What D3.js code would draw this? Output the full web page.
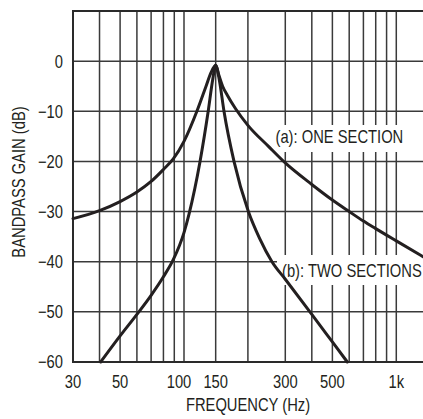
<!DOCTYPE html>
<html>
  <head>
    <meta charset="utf-8">
    <title>Bandpass gain</title>
    <script src="https://cdn.jsdelivr.net/npm/d3@7"></script>
    <style>
      body { margin: 0; background: #fff; }
      text { font-family: "Liberation Sans", Arial, sans-serif; font-size: 18px; fill: #231f20; }
    </style>
  </head>

  <body>
    <svg id="chart" width="423" height="419"></svg>

    <script>
      // data
      gridFreqs = [40, 50, 60, 70, 80, 90, 100, 141, 200, 300, 400, 500, 600, 700, 800, 900, 1000];
      xTickValues = [30, 50, 100, 141, 300, 500, 1000];
      xTickLabels = ["30", "50", "100", "150", "300", "500", "1k"];
      yTickValues = [-60, -50, -40, -30, -20, -10, 0];

      // (a): one section
      freqA = [30, 40, 50, 60, 70, 80, 89, 100, 115, 127, 134, 141, 146, 152, 160, 175, 200, 250, 300, 400, 500, 600, 700, 800, 900, 1000, 1336];
      gainA = [-31.4, -29.8, -28.0, -26.1, -24.0, -21.6, -19.5, -16.0, -10, -5.0, -2.3, -0.8, -2.8, -5.0, -6.8, -9.5, -12.8, -17.0, -20.3, -24.6, -27.7, -30.0, -31.9, -33.4, -34.7, -35.85, -39.0];

      // (b): two sections
      freqB = [40.5, 50, 60, 70, 80, 89, 100, 105.6, 119, 130, 136.5, 141, 147, 154.3, 172, 201, 226.7, 259.6, 300, 400, 500, 588];
      gainB = [-60, -54.8, -50.5, -46.7, -43.0, -39.6, -34.2, -30.5, -20, -10, -3.7, -0.8, -4.0, -10, -20, -30, -35.3, -40, -43.5, -50.5, -56.0, -60];

      labelA = "(a): ONE SECTION";
      labelB = "(b): TWO SECTIONS";

      // elements
      svg = d3.select("#chart");
      left = 73; right = 423; top_ = 11; bottom = 362;
      squeeze = 0.82; // the original lettering is condensed

      x = d3.scaleLog()
        .domain([30, 1336])
        .range([left, right]);
      y = d3.scaleLinear()
        .domain([-60, 10])
        .range([bottom, top_]);

      function addText(tx, ty, str, anchor, rotate) {
        return svg.append("text")
          .attr("transform", "translate(" + tx + "," + ty + ")" + (rotate ? " rotate(" + rotate + ")" : "") + " scale(" + squeeze + ",1)")
          .attr("text-anchor", anchor || "start")
          .text(str);
      }

      // grid
      grid = svg.append("g")
        .attr("stroke", "#3a3a3a")
        .attr("stroke-width", 1.5);
      grid.selectAll(".v")
        .data(gridFreqs)
      .enter().append("line")
        .attr("x1", function(d) { return x(d); })
        .attr("x2", function(d) { return x(d); })
        .attr("y1", top_)
        .attr("y2", bottom);
      grid.selectAll(".h")
        .data(yTickValues.slice(1))
      .enter().append("line")
        .attr("x1", left)
        .attr("x2", right)
        .attr("y1", function(d) { return y(d); })
        .attr("y2", function(d) { return y(d); });

      // frame (no right side)
      svg.append("path")
        .attr("d", "M" + right + "," + y(10) + "H" + left + "V" + y(-60) + "H" + right)
        .attr("fill", "none")
        .attr("stroke", "#2a2a2a")
        .attr("stroke-width", 2);

      // white boxes behind the curve labels
      svg.append("rect")
        .attr("x", 273).attr("y", 125)
        .attr("width", 135).attr("height", 27)
        .attr("fill", "#fff");
      svg.append("rect")
        .attr("x", 277).attr("y", 255)
        .attr("width", 146).attr("height", 30)
        .attr("fill", "#fff");

      // curves
      line = d3.line()
        .x(function(d) { return x(d[0]); })
        .y(function(d) { return y(d[1]); })
        .curve(d3.curveMonotoneX);

      [[freqA, gainA], [freqB, gainB]].forEach(function(s) {
        svg.append("path")
          .datum(d3.zip(s[0], s[1]))
          .attr("d", line)
          .attr("fill", "none")
          .attr("stroke", "#231f20")
          .attr("stroke-width", 3)
          .attr("stroke-linejoin", "round")
          .attr("stroke-linecap", "round");
      });

      // curve labels
      addText(275.5, 142.5, labelA);
      addText(282, 276.5, labelB);

      // tick labels
      yTickValues.forEach(function(d) {
        addText(63, y(d), d3.format("d")(d), "end")
          .attr("dy", "0.36em");
      });
      xTickValues.forEach(function(d, i) {
        addText(x(d) + (d == 100 ? -5 : 0), 388, xTickLabels[i], "middle");
      });

      // axis titles
      addText((left + right) / 2, 411, "FREQUENCY (Hz)", "middle");
      addText(25, 182, "BANDPASS GAIN (dB)", "middle", -90);
    </script>
  </body>
</html>
